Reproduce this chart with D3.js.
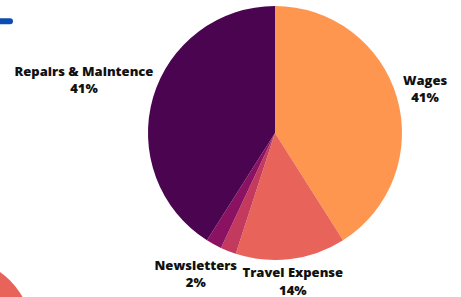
<!DOCTYPE html>
<html><head><meta charset="utf-8">
<script src="https://cdn.jsdelivr.net/npm/d3@7"></script>
<style>html,body{margin:0;padding:0;background:#fff;overflow:hidden}</style>
</head><body>
<svg id="chart" width="461" height="297"></svg>
<script>
const categories = ["Wages", "Travel Expense", "Other", "Newsletters", "Repairs & Maintence"];
const values = [41, 14, 2, 2, 41];
const percentLabels = ["41%", "14%", "2%", "2%", "41%"];
const showLabel = [true, true, false, true, true];
const colors = ["#FE9650", "#E8635A", "#C4395E", "#8B1262", "#4B0550"];

const svg = d3.select("#chart");
const W = 461, H = 297;
const cx = 275, cy = 133, R = 127;

// decorative elements
svg.append("circle").attr("cx", -45).attr("cy", 335).attr("r", 77.5).attr("fill", "#E8635A");
svg.append("line").attr("x1", -6).attr("x2", 10).attr("y1", 21.3).attr("y2", 21.3)
  .attr("stroke", "#0B4DB3").attr("stroke-width", 6).attr("stroke-linecap", "round");

const data = categories.map((c, i) => ({name: c, value: values[i], pct: percentLabels[i], show: showLabel[i], color: colors[i]}));
const pie = d3.pie().value(d => d.value).sort(null);
const arcs = pie(data);
const arc = d3.arc().innerRadius(0).outerRadius(R);
const g = svg.append("g").attr("transform", `translate(${cx},${cy})`);
g.selectAll("path").data(arcs).join("path")
  .attr("d", arc).attr("fill", d => d.data.color);

const labelArc = d3.arc().innerRadius(150).outerRadius(150);
const nudge = {"Wages": [6, -6], "Repairs & Maintence": [-47, -15], "Newsletters": [-7, 6], "Travel Expense": [-1, -5]};
const lineGap = {"Wages": 17, "Repairs & Maintence": 17, "Newsletters": 17, "Travel Expense": 18};
const labels = g.selectAll("text.lbl").data(arcs.filter(d => d.data.show)).join("text")
  .attr("class", "lbl")
  .attr("text-anchor", "middle")
  .style("font-family", "'Open Sans', sans-serif")
  .style("font-weight", 800)
  .style("font-size", "13px")
  .attr("fill", "#111");
labels.each(function(d) {
  const [px, py] = labelArc.centroid(d);
  const n = nudge[d.data.name] || [0, 0];
  const x = px + n[0], y = py + n[1];
  const t = d3.select(this);
  t.append("tspan").attr("x", x).attr("y", y).text(d.data.name);
  t.append("tspan").attr("x", x).attr("y", y + (lineGap[d.data.name] || 16)).text(d.data.pct);
});
</script>
</body></html>
